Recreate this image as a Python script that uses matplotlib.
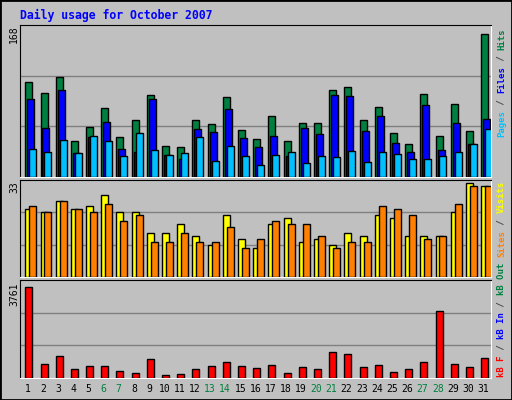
import matplotlib.pyplot as plt
from matplotlib.patches import Rectangle

days = list(range(1, 32))
hits = [108, 96, 114, 41, 57, 79, 45, 65, 93, 35, 34, 65, 60, 91, 53, 43,
        70, 41, 62, 61, 99, 103, 65, 80, 50, 38, 95, 47, 83, 52, 163]
files = [89, 56, 99, 27, 45, 63, 32, 29, 89, 25, 21, 55, 51, 77, 44, 34,
         47, 24, 56, 49, 93, 92, 52, 69, 39, 29, 82, 31, 62, 38, 66]
pages = [32, 29, 42, 27, 47, 41, 24, 50, 31, 25, 27, 46, 18, 35, 24, 14,
         25, 29, 16, 24, 23, 30, 17, 29, 26, 20, 21, 24, 29, 38, 55]
visits = [23, 22, 26, 23, 24, 28, 22, 22, 15, 15, 18, 14, 11, 21, 13, 10,
          18, 20, 12, 13, 11, 15, 14, 21, 20, 14, 14, 14, 22, 32, 31]
sites = [24, 22, 26, 23, 22, 25, 19, 21, 12, 12, 15, 12, 12, 17, 10, 13,
         19, 18, 18, 14, 10, 12, 12, 24, 23, 21, 13, 14, 25, 31, 31]
kbytes = [3616, 565, 881, 368, 487, 487, 289, 210, 763, 131, 171, 368, 487,
          644, 487, 408, 526, 210, 447, 368, 1039, 960, 447, 526, 250, 368,
          644, 2656, 565, 447, 802]
weekend = [6, 7, 13, 14, 20, 21, 27, 28]
top_max, mid_max, bot_max = 168, 33, 3761

W, H = 512, 400
BG = '#C0C0C0'
fig = plt.figure(figsize=(W / 100, H / 100), dpi=100, facecolor=BG)
fig.patches.append(Rectangle((0, 0), 1, 1, transform=fig.transFigure,
                             fill=False, edgecolor='black', lw=2))
mono = 'DejaVu Sans Mono'


def panel(y0, y1):
    # pixel coords from top-left
    ax = fig.add_axes([20 / W, 1 - y1 / H, 471 / W, (y1 - y0) / H])
    ax.set_facecolor(BG)
    ax.set_xlim(0, 31)
    ax.set_xticks([])
    ax.set_yticks([])
    for s in ax.spines.values():
        s.set_color('black')
    ax.spines['bottom'].set_color('white')
    ax.spines['right'].set_color('white')
    return ax


def bars(ax, vals, off, color):
    x = [d - 1 + off for d in days]
    ax.bar(x, vals, width=0.46, align='edge', color=color,
           edgecolor='black', linewidth=1, zorder=3)


def grid(ax, ymax):
    ax.set_ylim(0, ymax)
    for f in (1 / 3, 2 / 3):
        ax.axhline(ymax * f, color='#808080', lw=1, zorder=1)


def side_label(parts, ybottom):
    y = ybottom
    step = 5.45
    for txt, col in parts:
        fig.text(497 / W, 1 - y / H, txt, color=col, rotation=90,
                 family=mono, weight='bold', fontsize=6.5,
                 ha='left', va='bottom')
        y -= step * len(txt)


fig.text(20 / W, 1 - 15 / H, 'Daily usage for October 2007', color='#0000FF',
         family=mono, weight='bold', fontsize=8.3, va='center')

ax1 = panel(25, 177)
grid(ax1, top_max * 1.03)
bars(ax1, hits, 0.35, '#008040')
bars(ax1, files, 0.48, '#0000FF')
bars(ax1, pages, 0.61, '#00C0FF')

ax2 = panel(180, 277)
grid(ax2, mid_max)
bars(ax2, visits, 0.35, '#FFFF00')
bars(ax2, sites, 0.61, '#FF8000')

ax3 = panel(280, 378)
grid(ax3, bot_max * 1.04)
bars(ax3, kbytes, 0.35, '#FF0000')

for lab, ytop in ((str(top_max), 25), (str(mid_max), 181), (str(bot_max), 282)):
    fig.text(9 / W, 1 - ytop / H, lab, rotation=90, family=mono, fontsize=7,
             ha='left', va='top', color='black')

for d in days:
    fig.text((20 + (d - 0.5) * 471 / 31) / W, 1 - 389 / H, str(d),
             ha='center', va='center', family=mono, fontsize=7,
             color='#008040' if d in weekend else 'black')

side_label([('Pages', '#00C0FF'), (' / ', '#404040'), ('Files', '#0000FF'),
            (' / ', '#404040'), ('Hits', '#008040')], 137)
side_label([('Sites', '#FF8000'), (' / ', '#404040'), ('Visits', '#FFFF00')], 257)
side_label([('kB F', '#FF0000'), (' / ', '#404040'), ('kB In', '#0000FF'),
            (' / ', '#404040'), ('kB Out', '#008040')], 377)

fig.savefig('out.png', dpi=100, facecolor=BG)
